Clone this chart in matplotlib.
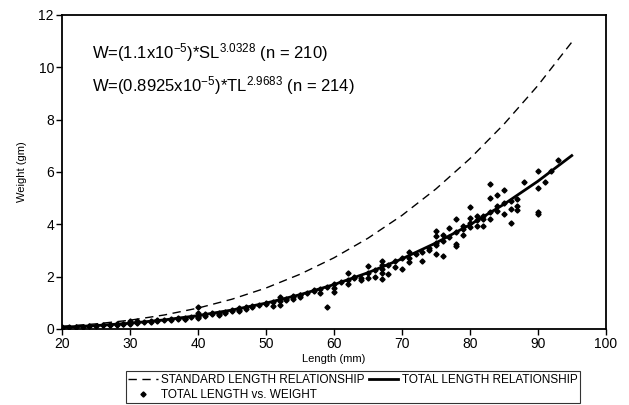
import matplotlib.pyplot as plt

plt.rcParams['font.family'] = ['Liberation Sans', 'DejaVu Sans']
plt.rcParams['mathtext.default'] = 'regular'

# fitted curves, every 5 mm
curve_len = [20, 25, 30, 35, 40, 45, 50, 55, 60, 65, 70, 75, 80, 85, 90, 95]
sl_wt = [0.097, 0.191, 0.332, 0.530, 0.795, 1.135, 1.563, 2.088, 2.717, 3.465,
         4.337, 5.348, 6.505, 7.820, 9.299, 10.96]
tl_wt = [0.065, 0.126, 0.216, 0.342, 0.508, 0.721, 0.985, 1.307, 1.693, 2.147,
         2.676, 3.284, 3.978, 4.761, 5.642, 6.624]

# total length vs weight observations
obs_len = [20, 20, 21, 22, 22, 23, 24, 24, 25, 26, 26, 27, 27, 28, 28, 28, 29, 29,
           30, 30, 30, 31, 31, 31, 32, 33, 33, 34, 34, 35, 36, 36, 37, 37, 38, 38, 38,
           39, 40, 40, 40, 40, 40, 41, 41, 42, 42, 43, 43, 43, 44, 44, 45, 45,
           46, 46, 46, 47, 47, 48, 48, 49, 50, 50, 51, 51, 52, 52, 52, 53, 53,
           54, 54, 54, 55, 55, 55, 56, 57, 57, 58, 58, 59, 59, 60, 60, 60, 61,
           62, 62, 62, 63, 63, 64, 64, 65, 65, 65, 66, 66, 67, 67, 67, 67, 67,
           68, 68, 69, 69, 70, 70, 71, 71, 71, 72, 73, 73, 74, 74,
           75, 75, 75, 75, 75, 76, 76, 76, 77, 77, 78, 78, 78, 78, 79, 79, 79,
           80, 80, 80, 80, 81, 81, 81, 82, 82, 82, 83, 83, 83, 83, 84, 84, 84,
           85, 85, 85, 86, 86, 86, 87, 87, 87, 88, 90, 90, 90, 90, 91, 92, 93]
obs_wt = [0.06, 0.05, 0.07, 0.08, 0.07, 0.09, 0.11, 0.10, 0.12, 0.14, 0.13, 0.16, 0.15,
          0.18, 0.17, 0.14, 0.20, 0.19, 0.22, 0.20, 0.30, 0.24, 0.26, 0.30, 0.27, 0.30,
          0.28, 0.32, 0.31, 0.34, 0.37, 0.35, 0.41, 0.38, 0.43, 0.39, 0.36, 0.47,
          0.85, 0.62, 0.50, 0.45, 0.40, 0.55, 0.50, 0.60, 0.55, 0.62, 0.58, 0.52,
          0.66, 0.62, 0.72, 0.68, 0.78, 0.73, 0.70, 0.82, 0.75, 0.88, 0.82, 0.93,
          0.98, 0.95, 1.02, 0.86, 1.20, 1.08, 0.90, 1.15, 1.10, 1.25, 1.20, 1.15,
          1.30, 1.28, 1.22, 1.38, 1.50, 1.45, 1.52, 1.38, 1.60, 0.85, 1.70, 1.55,
          1.40, 1.80, 2.15, 1.85, 1.70, 2.00, 1.95, 1.95, 1.85, 2.40, 2.15, 1.95,
          2.25, 2.00, 2.60, 2.45, 2.30, 2.15, 1.90, 2.45, 2.10, 2.60, 2.35, 2.70,
          2.28, 2.95, 2.70, 2.55, 2.85, 2.95, 2.60, 3.10, 3.00,
          3.55, 3.30, 3.20, 2.85, 3.75, 3.60, 3.35, 2.80, 3.85, 3.50, 4.20, 3.70,
          3.25, 3.15, 3.95, 3.80, 3.60, 4.65, 4.25, 4.05, 3.90, 4.30, 3.95, 4.15,
          4.30, 3.95, 4.20, 5.55, 5.00, 4.45, 4.20, 5.10, 4.50, 4.70,
          5.30, 4.40, 4.80, 4.60, 4.05, 4.90, 4.70, 4.55, 4.95, 5.60,
          6.05, 5.40, 4.45, 4.40, 5.60, 6.05, 6.45]

fig = plt.figure(figsize=(6.29, 4.05), dpi=100)
ax = fig.add_axes([0.099, 0.188, 0.864, 0.775])

ax.plot(curve_len, sl_wt, color='black', linestyle='--', dashes=(6, 4), linewidth=1.0,
        label='STANDARD LENGTH RELATIONSHIP')
ax.plot(obs_len, obs_wt, linestyle='none', marker='D', markersize=2.6, color='black',
        label='TOTAL LENGTH vs. WEIGHT')
ax.plot(curve_len, tl_wt, color='black', linewidth=2.0, label='TOTAL LENGTH RELATIONSHIP')

ax.set_xlim(20, 100)
ax.set_ylim(0, 12)
ax.set_xticks(range(20, 101, 10))
ax.set_yticks(range(0, 13, 2))
ax.tick_params(direction='out', length=4, labelsize=10, width=1, pad=2)
for s in ax.spines.values():
    s.set_linewidth(1.3)
    s.set_color('black')

ax.set_xlabel('Length (mm)', fontsize=8, labelpad=2)
ax.set_ylabel('Weight (gm)', fontsize=8, labelpad=8)

ax.text(24.4, 10.55, 'W=(1.1x10$^{-5}$)*SL$^{3.0328}$ (n = 210)', fontsize=12, va='center')
ax.text(24.4, 9.3, 'W=(0.8925x10$^{-5}$)*TL$^{2.9683}$ (n = 214)', fontsize=12, va='center')

leg = fig.legend(loc='lower center', bbox_to_anchor=(0.561, -0.01), ncol=2, fontsize=8.5,
                 frameon=True, fancybox=False, edgecolor='black', borderpad=0.2,
                 handlelength=2.5, handletextpad=0.3, columnspacing=0.3, labelspacing=0.25)
leg.get_frame().set_linewidth(0.8)

fig.savefig('out.png', dpi=100)
